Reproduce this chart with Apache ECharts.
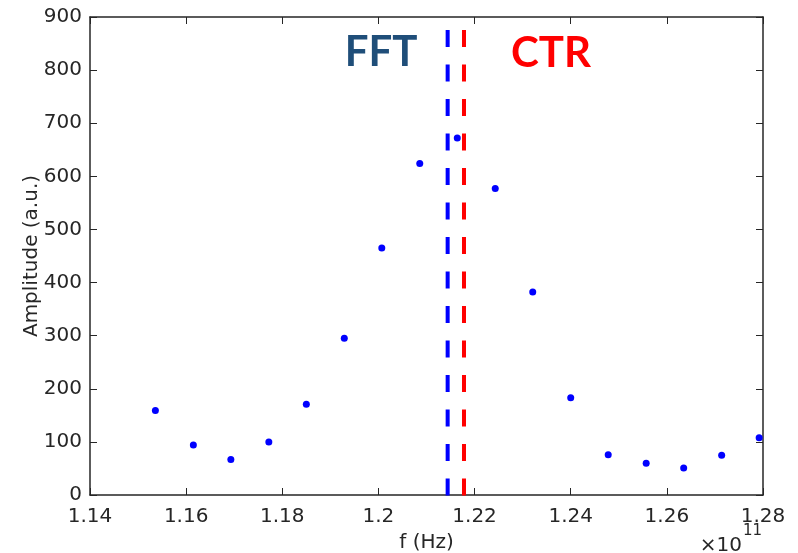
<!DOCTYPE html>
<html>
<head>
<meta charset="utf-8">
<script src="https://cdn.jsdelivr.net/npm/echarts@6/dist/echarts.min.js"></script>
<style>
html,body{margin:0;padding:0;background:#fff;}
#c{width:798px;height:553px;}
</style>
</head>
<body>
<div id="c"></div>
<script>
// frequency in units of 1e11 Hz
var freq = [1.1536, 1.1615, 1.1693, 1.1772, 1.1850, 1.1929, 1.2007, 1.2086, 1.2164, 1.2243, 1.2321, 1.2400, 1.2478, 1.2557, 1.2635, 1.2714, 1.2792];
var amplitude = [159, 94, 67, 100, 171, 295, 465, 624, 672, 577, 382, 183, 76, 60, 51, 75, 108];
var fftLine = 1.2144;
var ctrLine = 1.2178;
var xTicks = [1.14, 1.16, 1.18, 1.20, 1.22, 1.24, 1.26, 1.28];
var yTicks = [0, 100, 200, 300, 400, 500, 600, 700, 800, 900];

var points = freq.map(function (f, i) { return [f, amplitude[i]]; });
var axisColor = '#262626';
var font = 'DejaVu Sans';

var chart = echarts.init(document.getElementById('c'), null, {renderer: 'canvas'});
var baseX = {
  type: 'value', min: xTicks[0], max: xTicks[xTicks.length - 1], interval: 0.02,
  axisLine: {show: true, onZero: false, lineStyle: {color: axisColor, width: 1.5}},
  axisTick: {show: true, inside: true, length: 7, lineStyle: {color: axisColor, width: 1}},
  splitLine: {show: false}
};
var baseY = {
  type: 'value', min: yTicks[0], max: yTicks[yTicks.length - 1], interval: 100,
  axisLine: {show: true, onZero: false, lineStyle: {color: axisColor, width: 1.5}},
  axisTick: {show: true, inside: true, length: 7, lineStyle: {color: axisColor, width: 1}},
  splitLine: {show: false}
};
chart.setOption({
  animation: false,
  backgroundColor: '#fff',
  grid: {left: 90, top: 17, right: 35, bottom: 58, containLabel: false, outerBoundsMode: 'none'},
  xAxis: [
    Object.assign({}, baseX, {
      position: 'bottom',
      name: 'f (Hz)', nameLocation: 'middle', nameGap: 38, nameMoveOverlap: false,
      nameTextStyle: {fontFamily: font, fontSize: 20, color: axisColor},
      axisLabel: {show: true, margin: 12, fontFamily: font, fontSize: 20, color: axisColor,
        formatter: function (v) { return String(+v.toFixed(2)); }}
    }),
    Object.assign({}, baseX, {position: 'top', axisLabel: {show: false}})
  ],
  yAxis: [
    Object.assign({}, baseY, {
      position: 'left',
      name: 'Amplitude (a.u.)', nameLocation: 'middle', nameGap: 48, nameMoveOverlap: false,
      nameTextStyle: {fontFamily: font, fontSize: 20, color: axisColor},
      axisLabel: {show: true, margin: 8, fontFamily: font, fontSize: 20, color: axisColor}
    }),
    Object.assign({}, baseY, {position: 'right', axisLabel: {show: false}})
  ],
  graphic: [
    {type: 'text', x: 381, y: 52, style: {text: 'FFT', fill: '#1F4E79', font: 'bold 42px Lato', textAlign: 'center', textVerticalAlign: 'middle'}},
    {type: 'text', x: 551, y: 53, style: {text: 'CTR', fill: '#FF0000', font: 'bold 42px Lato', textAlign: 'center', textVerticalAlign: 'middle'}},
    {type: 'text', x: 742, y: 546, style: {text: '\u00d710', fill: axisColor, font: '20px "DejaVu Sans"', textAlign: 'right', textVerticalAlign: 'middle'}},
    {type: 'text', x: 743, y: 531, style: {text: '11', fill: axisColor, font: '15px "DejaVu Sans"', textAlign: 'left', textVerticalAlign: 'middle'}}
  ],
  series: [
    {
      type: 'line', xAxisIndex: 0, yAxisIndex: 0, silent: true, clip: false,
      data: [[fftLine, 900], [fftLine, -6]], symbol: 'none',
      lineStyle: {color: '#0000FF', width: 4, type: [17, 17.5], dashOffset: 21.5}
    },
    {
      type: 'line', xAxisIndex: 0, yAxisIndex: 0, silent: true, clip: false,
      data: [[ctrLine, 900], [ctrLine, -6]], symbol: 'none',
      lineStyle: {color: '#FF0000', width: 4, type: [17, 17.5], dashOffset: 21.5}
    },
    {
      type: 'scatter', xAxisIndex: 0, yAxisIndex: 0, silent: true,
      data: points, symbol: 'circle', symbolSize: 7,
      itemStyle: {color: '#0000FF', opacity: 1}
    }
  ]
});
</script>
</body>
</html>
